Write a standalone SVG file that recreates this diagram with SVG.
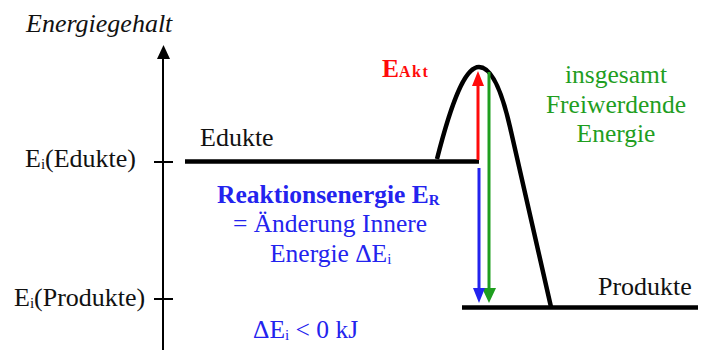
<svg xmlns="http://www.w3.org/2000/svg" width="708" height="350" viewBox="0 0 708 350">
<style>
text{font-family:"Liberation Serif","Times New Roman",serif;font-size:25.5px;}
.k{fill:#111;font-size:26px;}
.b{fill:#2323ee;}
.g{fill:#1f9e1f;}
.r{fill:#ff0a0a;font-weight:bold;}
.ln{stroke:#000;stroke-width:4.5;fill:none;}
.ax{stroke:#000;stroke-width:2;fill:none;}
.sub{font-size:15px;}
</style>
<rect width="708" height="350" fill="#fff"/>
<g id="axis">
<line class="ax" x1="163" y1="56" x2="163" y2="350"/>
<polygon points="157,59 170,59 163.5,45" fill="#000"/>
<line class="ax" x1="154" y1="162" x2="173" y2="162"/>
<line class="ax" x1="154" y1="299" x2="173" y2="299"/>
<text x="26" y="32" class="k" font-style="italic" font-size="26.5">Energiegehalt</text>
<text x="25" y="167" class="k" font-size="26.5">E<tspan class="sub" dy="2">i</tspan><tspan dy="-2">(Edukte)</tspan></text>
<text x="14" y="306" class="k" font-size="26.5">E<tspan class="sub" dy="2">i</tspan><tspan dy="-2">(Produkte)</tspan></text>
</g>
<g id="edukte">
<line class="ln" x1="185" y1="161.5" x2="479" y2="161.5"/>
<text x="200" y="146" class="k">Edukte</text>
</g>
<g id="produkte">
<line class="ln" x1="462" y1="307.5" x2="698" y2="307.5"/>
<text x="598" y="295" class="k">Produkte</text>
</g>
<g id="transition">
<path class="ln" d="M437,159 C454,92 467,67 479,67 C492,67 502,92 510,127 L551,307"/>
</g>
<g id="connectors">
<line x1="478" y1="160" x2="478" y2="84" stroke="#ff0a0a" stroke-width="3"/>
<polygon points="472,86 484,86 478,71" fill="#ff0a0a"/>
<line x1="489" y1="72" x2="489" y2="290" stroke="#1f9e1f" stroke-width="3"/>
<polygon points="482,288 496,288 489,303" fill="#1f9e1f"/>
<line x1="479" y1="168" x2="479" y2="290" stroke="#2323ee" stroke-width="3"/>
<polygon points="473,288 485,288 479,303" fill="#2323ee"/>
</g>
<g id="labels">
<text x="382" y="77" class="r" font-size="26">E<tspan font-size="16" letter-spacing="1.5">Akt</tspan></text>
<text x="616" y="83" class="g" text-anchor="middle">insgesamt</text>
<text x="616" y="113" class="g" text-anchor="middle">Freiwerdende</text>
<text x="616" y="142" class="g" text-anchor="middle">Energie</text>
<text x="217" y="203" class="b" font-weight="bold">Reaktionsenergie E<tspan class="sub" dy="2">R</tspan></text>
<text x="330" y="232" class="b" text-anchor="middle">= Änderung Innere</text>
<text x="270" y="262" class="b">Energie ΔE<tspan class="sub" dy="2">i</tspan></text>
<text x="253" y="338" class="b">ΔE<tspan class="sub" dy="2">i</tspan><tspan dy="-2"> &lt; 0 kJ</tspan></text>
</g>
</svg>
